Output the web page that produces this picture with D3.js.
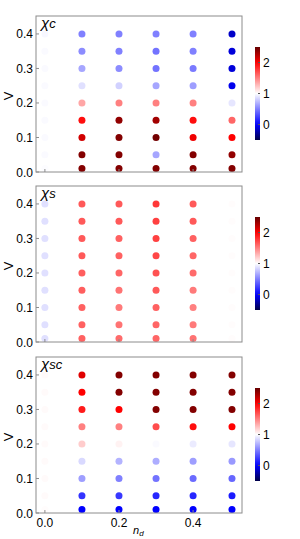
<!DOCTYPE html>
<html>
<head>
<meta charset="utf-8">
<script src="https://cdn.jsdelivr.net/npm/d3@7"></script>
<style>
  body { margin: 0; background: #fff; }
  text { font-family: "Liberation Sans", Arial, sans-serif; }
</style>
</head>
<body>
<div class="chart"></div>
<script>
// grid of the data
var ndVals = [0, 0.1, 0.2, 0.3, 0.4, 0.505];
var vVals = [0.4, 0.35, 0.3, 0.25, 0.2, 0.15, 0.1, 0.05, 0.01];

// rows follow vVals (top to bottom), columns follow ndVals
var chiC = [
  [0.97, 0.50, 0.50, 0.50, 0.50, -0.15],
  [0.98, 0.55, 0.50, 0.45, 0.50, -0.10],
  [0.98, 0.65, 0.55, 0.45, 0.48, -0.10],
  [0.98, 0.88, 0.82, 0.65, 0.62, -0.05],
  [0.98, 1.35, 1.50, 1.50, 1.50, 0.90],
  [0.98, 1.95, 2.35, 2.30, 1.95, 1.60],
  [0.98, 2.15, 2.40, 2.45, 2.05, 2.00],
  [0.98, 2.40, 2.40, 0.65, 2.40, 2.35],
  [0.99, 2.40, 2.40, 2.40, 2.40, 2.40]
];
var chiS = [
  [0.88, 1.65, 1.65, 1.78, 1.65, 1.01],
  [0.88, 1.65, 1.65, 1.75, 1.65, 1.01],
  [0.88, 1.65, 1.62, 1.75, 1.62, 1.01],
  [0.88, 1.65, 1.62, 1.72, 1.60, 1.01],
  [0.88, 1.63, 1.60, 1.68, 1.58, 1.01],
  [0.88, 1.63, 1.55, 1.65, 1.52, 1.01],
  [0.88, 1.62, 1.52, 1.62, 1.50, 1.01],
  [0.88, 1.62, 1.55, 1.60, 1.52, 1.01],
  [0.88, 1.62, 1.58, 1.60, 1.55, 1.01]
];
var chiSC = [
  [1.02, 2.10, 2.40, 2.40, 2.40, 2.40],
  [1.02, 2.00, 2.40, 2.40, 2.40, 2.40],
  [1.02, 1.90, 2.00, 2.40, 2.40, 2.40],
  [1.02, 1.50, 1.50, 1.70, 1.95, 2.00],
  [1.02, 1.20, 1.05, 0.98, 0.92, 0.90],
  [1.02, 0.85, 0.70, 0.68, 0.62, 0.60],
  [1.02, 0.62, 0.50, 0.45, 0.42, 0.40],
  [1.02, 0.20, 0.22, 0.15, 0.15, 0.10],
  [1.01, 0.00, 0.00, 0.00, 0.00, 0.00]
];
var panelNames = ["c", "s", "sc"];
var yTicks = [0, 0.1, 0.2, 0.3, 0.4];
var xTicks = [0, 0.2, 0.4];
var cbTicks = [0, 1, 2];

var W = 300, H = 539;
var panelTops = [16, 186, 357];
var panelH = 156;
var left = 36, right = 242;

var svg = d3.select(".chart")
  .append("svg")
  .attr("width", W)
  .attr("height", H);

var x = d3.scaleLinear().domain([-0.024, 0.532]).range([left, right]);

var color = d3.scaleLinear()
  .domain([-0.5, 0, 1, 2, 2.5])
  .range(["#000048", "#0000ff", "#ffffff", "#ff0000", "#640000"])
  .clamp(true);

// gradient for the colour bars
var grad = svg.append("defs").append("linearGradient")
  .attr("id", "cbar")
  .attr("x1", 0).attr("y1", 1).attr("x2", 0).attr("y2", 0);
d3.range(0, 21).forEach(function(i) {
  var v = -0.5 + 3 * i / 20;
  grad.append("stop").attr("offset", (i / 20)).attr("stop-color", color(v));
});

var sets = [chiC, chiS, chiSC];

sets.forEach(function(data, p) {
  var top = panelTops[p];
  var y = d3.scaleLinear().domain([0, 0.452]).range([top + panelH, top]);
  var g = svg.append("g");

  // dots
  data.forEach(function(row, r) {
    g.selectAll(null)
      .data(row)
      .enter()
      .append("circle")
      .attr("cx", function(d, c) { return x(ndVals[c]); })
      .attr("cy", y(vVals[r]))
      .attr("r", 3.5)
      .attr("fill", function(d) { return color(d); });
  });

  // frame
  g.append("rect")
    .attr("x", left).attr("y", top)
    .attr("width", right - left).attr("height", panelH)
    .attr("fill", "none")
    .attr("stroke", "#8c8c8c")
    .attr("stroke-width", 1);

  // y ticks
  yTicks.forEach(function(t) {
    g.append("line")
      .attr("x1", left).attr("x2", left + 3)
      .attr("y1", y(t)).attr("y2", y(t))
      .attr("stroke", "#8c8c8c");
    g.append("text")
      .attr("x", left - 3).attr("y", y(t) + 4.5)
      .attr("text-anchor", "end")
      .attr("font-size", 12)
      .text(d3.format(".1f")(t));
  });

  // x ticks
  xTicks.forEach(function(t) {
    g.append("line")
      .attr("x1", x(t)).attr("x2", x(t))
      .attr("y1", top + panelH).attr("y2", top + panelH - 3)
      .attr("stroke", "#8c8c8c");
    if (p == 2) {
      g.append("text")
        .attr("x", x(t)).attr("y", top + panelH + 14)
        .attr("text-anchor", "middle")
        .attr("font-size", 12)
        .text(d3.format(".1f")(t));
    }
  });

  // V label
  g.append("text")
    .attr("transform", "translate(13," + (top + panelH / 2 + 2) + ") rotate(-90)")
    .attr("text-anchor", "middle")
    .attr("font-size", 13)
    .text("V");

  // panel title
  var ttl = g.append("text")
    .attr("x", 41).attr("y", top + 12)
    .attr("font-family", "'Liberation Serif', 'Times New Roman', serif")
    .attr("font-style", "italic")
    .attr("font-size", 15);
  ttl.append("tspan").text("χ");
  ttl.append("tspan").attr("font-size", 13).text(panelNames[p]);

  // colour bar
  var cbTop = top + 31, cbBot = top + 124;
  var cy = d3.scaleLinear().domain([-0.5, 2.5]).range([cbBot, cbTop]);
  g.append("rect")
    .attr("x", 255).attr("y", cbTop)
    .attr("width", 5).attr("height", cbBot - cbTop)
    .attr("fill", "url(#cbar)");
  cbTicks.forEach(function(t) {
    g.append("line")
      .attr("x1", 258).attr("x2", 260)
      .attr("y1", cy(t)).attr("y2", cy(t))
      .attr("stroke", "#555");
    g.append("text")
      .attr("x", 263).attr("y", cy(t) + 4.5)
      .attr("font-size", 12)
      .text(t);
  });
});

// x label
var xl = svg.append("text")
  .attr("x", 133).attr("y", 534)
  .attr("font-family", "'Liberation Serif', 'Times New Roman', serif")
  .attr("font-style", "italic")
  .attr("font-size", 11);
xl.append("tspan").text("n");
xl.append("tspan").attr("font-size", 8).attr("dy", 2).text("d");
</script>
</body>
</html>
